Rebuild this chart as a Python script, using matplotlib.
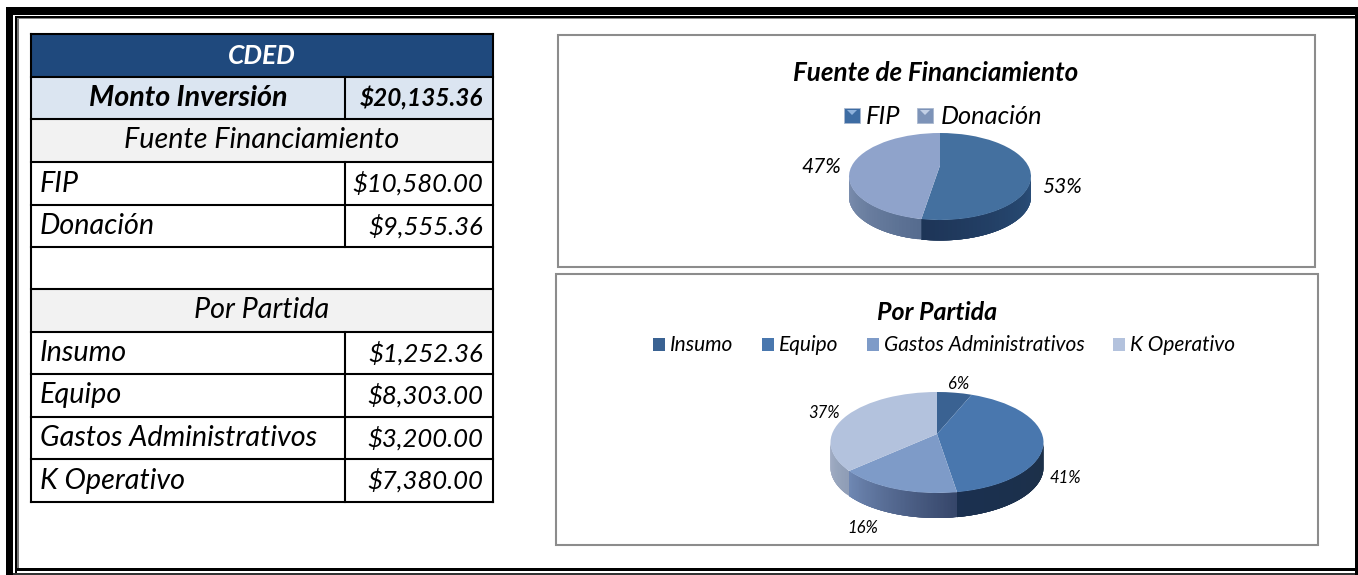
import numpy as np
import matplotlib
matplotlib.use("Agg")
import matplotlib.pyplot as plt
from matplotlib.patches import Rectangle
from matplotlib.transforms import Transform

W, H = 1358, 575
FONT = "Lato"

# ---- data ----
table_title = "CDED"
total_label = "Monto Inversión"
total_value = "$20,135.36"
fuente_header = "Fuente Financiamiento"
fuente_labels = ["FIP", "Donación"]
fuente_values = [10580.00, 9555.36]
partida_header = "Por Partida"
partida_labels = ["Insumo", "Equipo", "Gastos Administrativos", "K Operativo"]
partida_values = [1252.36, 8303.00, 3200.00, 7380.00]

chart1_title = "Fuente de Financiamiento"
chart2_title = "Por Partida"
chart1_pct = ["53%", "47%"]
chart2_pct = ["6%", "41%", "16%", "37%"]

# ---- styles ----
c_head = "#1f497d"
c_total = "#dbe5f1"
c_sub = "#f2f2f2"
fuente_colors = ["#44709f", "#8fa3cb"]
fuente_walls = [("#2a4f7a", "#1d3456"), ("#566c8f", "#8092b2")]
partida_colors = ["#3a6292", "#4977ae", "#7e9bc8", "#b3c2dd"]
partida_walls = [("#1c3048", "#1c3048"), ("#1c3048", "#1b3050"),
                 ("#36466a", "#7089b4"), ("#8f9db6", "#a6b2c8")]

fig = plt.figure(figsize=(W / 100, H / 100), dpi=100, facecolor="white")
bg = fig.add_axes([0, 0, 1, 1])
bg.set_xlim(0, W)
bg.set_ylim(H, 0)
bg.axis("off")


def rect(x0, y0, x1, y1, fc="none", ec="none", lw=0.0, z=1):
    bg.add_patch(Rectangle((x0, y0), x1 - x0, y1 - y0, fc=fc, ec=ec, lw=lw, zorder=z))


def txt(x, y, s, size, ha="left", weight="normal", color="black", style="italic"):
    bg.text(x, y, s, fontsize=size, ha=ha, va="center", fontweight=weight,
            color=color, fontstyle=style, family=FONT, zorder=6)


# ---- page frame ----
rect(6, 7, W, 15, fc="black")
rect(6, 7, 13, 575, fc="black")
rect(15, 16, 17, 575, fc="black")
rect(17, 17, 19, 570, fc="#777777")
rect(15, 16, W, 18, fc="black")
rect(17, 18, W, 19, fc="#888888")
rect(17, 568, W, 571, fc="black")
rect(13, 573, W, 575, fc="#333333")
rect(1355, 15, 1358, 575, fc="black")

# ---- table ----
ys = [34, 77, 119, 162, 205, 247, 289, 332, 374, 417, 459, 502]
xl, xm, xr = 31, 345, 493
fills = {0: c_head, 1: c_total, 2: c_sub, 6: c_sub}
for i, f in fills.items():
    rect(xl, ys[i], xr, ys[i + 1], fc=f)
for y in ys:
    bg.plot([xl, xr], [y, y], color="black", lw=1.5, zorder=4, solid_capstyle="projecting")
bg.plot([xl, xl], [ys[0], ys[-1]], color="black", lw=1.5, zorder=4)
bg.plot([xr, xr], [ys[0], ys[-1]], color="black", lw=1.5, zorder=4)
for a, b in [(1, 2), (3, 5), (7, 11)]:
    bg.plot([xm, xm], [ys[a], ys[b]], color="black", lw=1.5, zorder=4)


def row_y(i):
    return (ys[i] + ys[i + 1]) / 2


def money(v):
    return f"${v:,.2f}"


TS = 20.7
VS = 18.5
txt((xl + xr) / 2, row_y(0), table_title, 19, ha="center", weight="bold", color="white")
txt(188, row_y(1), total_label, TS, ha="center", weight="bold")
txt(483, row_y(1), total_value, 17.5, ha="right", weight="bold")
txt(262, row_y(2), fuente_header, TS, ha="center")
txt(262, row_y(6), partida_header, TS, ha="center")
for i, (l, v) in enumerate(zip(fuente_labels, fuente_values)):
    txt(40, row_y(3 + i), l, TS)
    txt(483, row_y(3 + i), money(v), VS, ha="right")
for i, (l, v) in enumerate(zip(partida_labels, partida_values)):
    txt(40, row_y(7 + i), l, TS)
    txt(483, row_y(7 + i), money(v), VS, ha="right")

# ---- chart boxes ----
rect(558, 35, 1315, 267, ec="#8c8c8c", lw=1.5, z=2)
rect(556, 274, 1318, 545, ec="#8c8c8c", lw=1.5, z=2)


class Tilt(Transform):
    """Perspective of a flat disc: the rim stays an ellipse, the centre moves up."""
    input_dims = output_dims = 2
    is_affine = False

    def __init__(self, k):
        super().__init__()
        self.k = k

    def transform_non_affine(self, xy):
        xy = np.asarray(xy, float)
        d = 1 + self.k * xy[:, 1]
        return np.column_stack([np.sqrt(1 - self.k ** 2) * xy[:, 0] / d,
                                (xy[:, 1] + self.k) / d])


def hex_mix(c0, c1, t):
    a = np.array(matplotlib.colors.to_rgb(c0))
    b = np.array(matplotlib.colors.to_rgb(c1))
    return tuple(a + (b - a) * t)


def pie3d(cx, cy, rx, ry, depth, k, values, colors, walls):
    ax = fig.add_axes([(cx - rx) / W, 1 - (cy + ry) / H, 2 * rx / W, 2 * ry / H])
    ax.patch.set_visible(False)
    tilt = Tilt(k)
    fr = np.asarray(values, float) / np.sum(values)
    edges = np.concatenate([[0], np.cumsum(fr)]) * 2 * np.pi
    d = depth / ry
    for i in range(len(fr)):
        th = np.linspace(edges[i], edges[i + 1], 90)
        rim = tilt.transform_non_affine(np.column_stack([np.sin(th), np.cos(th)]))
        vis = rim[:, 1] <= 0.02
        if vis.sum() < 2:
            continue
        rim = rim[vis]
        n = len(rim)
        for j in range(n - 1):
            e = min(j + 4, n - 1)
            col = hex_mix(walls[i][0], walls[i][1], j / (n - 1))
            seg = rim[j:e + 1]
            ax.fill(np.concatenate([seg[:, 0], seg[::-1, 0]]),
                    np.concatenate([seg[:, 1], seg[::-1, 1] - d]),
                    color=col, lw=0, clip_on=False, zorder=1)
    wedges, _ = ax.pie(values, colors=colors, startangle=90, counterclock=False, radius=1.0,
                       wedgeprops=dict(lw=0, clip_on=False, zorder=2))
    for w in wedges:
        w.set_transform(tilt + ax.transData)
    ax.set_aspect("auto")
    ax.set_xlim(-1, 1)
    ax.set_ylim(-1, 1)
    return ax


# ---- chart 1 ----
txt(936, 73, chart1_title, 18.7, ha="center", weight="bold")
for x0, c, hi, tx, lab in zip([844, 917], ["#3d6ca3", "#7d93b8"], ["#8fb2dc", "#c3d0e6"],
                              [866, 941], fuente_labels):
    rect(x0, 108, x0 + 16, 123, fc=c, ec="#a9b8cf", lw=0.6, z=3)
    bg.fill([x0 + 3, x0 + 13, x0 + 8], [110, 110, 115], color=hi, lw=0, zorder=4)
    txt(tx, 116, lab, 18.3)
pie3d(940, 176.5, 91, 43.5, 20.5, 0.253, fuente_values, fuente_colors, fuente_walls)
for (x, y), s in zip([(1062, 187), (821, 167)], chart1_pct):
    txt(x, y, s, 15, ha="center")

# ---- chart 2 ----
txt(937, 313, chart2_title, 18, ha="center", weight="bold")
for x0, c, lab in zip([653, 762, 867, 1113], partida_colors, partida_labels):
    rect(x0, 338, x0 + 12, 351, fc=c, z=3)
    txt(x0 + 17, 345, lab, 15)
pie3d(937, 442.5, 106.5, 50.5, 25, 0.168, partida_values, partida_colors, partida_walls)
for (x, y), s in zip([(959, 384), (1065, 478), (863, 528), (824, 413)], chart2_pct):
    txt(x, y, s, 12, ha="center")

fig.savefig("out.png", dpi=100)
